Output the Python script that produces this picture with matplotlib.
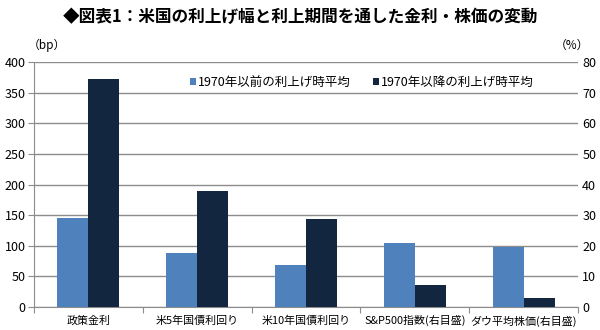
import numpy as np
import matplotlib.pyplot as plt

plt.rcParams['font.family'] = ['Noto Sans CJK JP', 'DejaVu Sans']

# データ
categories = ['政策金利', '米5年国債利回り', '米10年国債利回り', 'S&P500指数(右目盛)', 'ダウ平均株価(右目盛)']
series_names = ['1970年以前の利上げ時平均', '1970年以降の利上げ時平均']
# 左軸 (bp)
before_bp = [145, 88, 68]
after_bp = [373, 189, 143]
# 右軸 (%)
before_pct = [20.8, 19.7]
after_pct = [7.1, 2.9]

c_before = '#4F81BD'
c_after = '#13263F'
grid_c = '#8C8C8C'

fig = plt.figure(figsize=(6, 3.3), dpi=100)
ax = fig.add_axes([34 / 600, 1 - 307 / 330, 544 / 600, 245 / 330])
ax2 = ax.twinx()

x = np.arange(len(categories))
w = 0.285
n_left = len(before_bp)

ax.bar(x[:n_left] - w / 2, before_bp, w, color=c_before, zorder=3)
ax.bar(x[:n_left] + w / 2, after_bp, w, color=c_after, zorder=3)
ax2.bar(x[n_left:] - w / 2, before_pct, w, color=c_before, zorder=3, label=series_names[0])
ax2.bar(x[n_left:] + w / 2, after_pct, w, color=c_after, zorder=3, label=series_names[1])

ax.set_xlim(-0.5, len(categories) - 0.5)
ax.set_ylim(0, 400)
ax2.set_ylim(0, 80)
ax.set_yticks(np.arange(0, 401, 50))
ax2.set_yticks(np.arange(0, 81, 10))

# 目盛線
ax.grid(axis='y', color=grid_c, linewidth=1.0, zorder=0)
ax.set_axisbelow(True)

# x軸: 区切り目盛と中央ラベル
ax.set_xticks(np.arange(-0.5, len(categories), 1.0))
ax.set_xticklabels([])
ax.set_xticks(x, minor=True)
ax.set_xticklabels(categories, minor=True, fontsize=7.9)
ax.tick_params(axis='x', which='major', length=4, color=grid_c, direction='out')
ax.tick_params(axis='x', which='minor', length=0, pad=6)

ax.tick_params(axis='y', length=4, color=grid_c, labelsize=9, pad=2)
ax2.tick_params(axis='y', length=0, labelsize=9, pad=3)

for a in (ax, ax2):
    for s in a.spines.values():
        s.set_visible(False)
ax.spines['left'].set_visible(True)
ax.spines['left'].set_color(grid_c)
ax.spines['bottom'].set_visible(True)
ax.spines['bottom'].set_color(grid_c)

# 凡例
leg = ax2.legend(loc='upper center', bbox_to_anchor=(0.603, 0.985), ncol=2, frameon=True,
                 fontsize=9, handlelength=0.45, handleheight=0.45, handletextpad=0.2,
                 columnspacing=1.8, borderpad=0.3)
leg.get_frame().set_facecolor('white')
leg.get_frame().set_edgecolor('none')
leg.get_frame().set_alpha(1.0)

fig.text(0.5, 0.95, '◆図表1：米国の利上げ幅と利上期間を通した金利・株価の変動',
         ha='center', va='center', fontsize=12, fontweight='bold')
fig.text(47 / 600, 1 - 45 / 330, '（bp）', ha='center', va='center', fontsize=8.5)
fig.text(572 / 600, 1 - 45 / 330, '（%）', ha='center', va='center', fontsize=8.5)

fig.savefig('out.png', dpi=100)
